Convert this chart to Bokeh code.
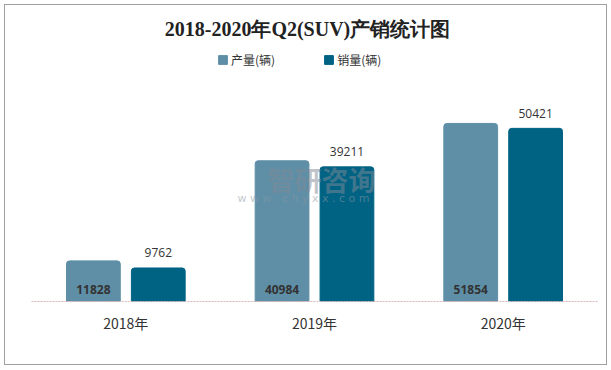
from bokeh.plotting import figure
from bokeh.models import ColumnDataSource, FactorRange, Legend, LegendItem, Label, Range1d
from bokeh.transform import dodge
from bokeh.core.properties import value
from bokeh.embed import file_html
from bokeh.resources import INLINE

years = ["2018年", "2019年", "2020年"]
production = [11828, 40984, 51854]
sales = [9762, 39211, 50421]
series_names = ["产量(辆)", "销量(辆)"]
title_text = "2018-2020年Q2(SUV)产销统计图"

src = ColumnDataSource(dict(
    years=years, production=production, sales=sales,
    prod_lbl=[str(v) for v in production], sales_lbl=[str(v) for v in sales],
    zero=[0] * len(years),
))

c_prod = "#5e8fa7"
c_sales = "#006384"

p = figure(width=603, height=361, x_range=FactorRange(*years, range_padding=0),
           y_range=Range1d(0, 86200), output_backend="svg", toolbar_location=None,
           min_border_left=26, min_border_right=11, min_border_bottom=65, min_border_top=0,
           background_fill_color="white", border_fill_color="white",
           styles={"border": "1px solid #a0a0a0", "box-sizing": "border-box", "margin": "4px"})

r1 = p.vbar(x=dodge("years", -0.172, range=p.x_range), top="production", width=0.285,
            source=src, color=c_prod, border_radius=[3, 3, 0, 0])
r2 = p.vbar(x=dodge("years", 0.172, range=p.x_range), top="sales", width=0.285,
            source=src, color=c_sales, border_radius=[3, 3, 0, 0])

p.text(x=dodge("years", -0.172, range=p.x_range), y="zero", text="prod_lbl", source=src,
       text_font=value("Open Sans"), text_font_style="bold", text_font_size="12px",
       text_color="#333333", text_align="center", text_baseline="middle", y_offset=-12)
p.text(x=dodge("years", 0.172, range=p.x_range), y="sales", text="sales_lbl", source=src,
       text_font=value("Open Sans"), text_font_size="12px",
       text_color="#333333", text_align="center", text_baseline="middle", y_offset=-15)

# title
p.add_layout(Label(x=276, y=273, x_units="screen", y_units="screen", text=title_text,
                   text_font="Liberation Serif", text_font_size="20px", text_font_style="bold",
                   text_color="#222222", text_align="center", text_baseline="middle"))

legend = Legend(items=[LegendItem(label=series_names[0], renderers=[r1]),
                       LegendItem(label=series_names[1], renderers=[r2])],
                orientation="horizontal", location=(184, 231),
                label_text_font="Noto Sans CJK SC", label_text_font_size="12px",
                label_text_color="#333333", glyph_width=11, glyph_height=11,
                label_standoff=3, spacing=48, border_line_alpha=0,
                padding=2, margin=0, background_fill_alpha=0)
p.add_layout(legend, "center")

# watermark
p.add_layout(Label(x=236, y=122, x_units="screen", y_units="screen", text="智研咨询",
                   text_font="Noto Sans CJK SC", text_font_size="27px", text_font_style="bold",
                   text_color="#7f8a96", text_alpha=0.5, text_baseline="middle"))
p.add_layout(Label(x=206, y=103, x_units="screen", y_units="screen", text="w w w . c h y x x . c o m",
                   text_font="DejaVu Sans", text_font_size="11px", text_color="#8a96a0",
                   text_alpha=0.55, text_baseline="middle"))

p.yaxis.visible = False
p.xgrid.visible = False
p.ygrid.visible = False
p.outline_line_color = None
p.xaxis.major_tick_line_color = None
p.xaxis.minor_tick_line_color = None
p.xaxis.axis_line_color = "#d8b8b8"
p.xaxis.axis_line_dash = "2 1"
p.xaxis.major_label_text_font = "Noto Sans CJK SC"
p.xaxis.major_label_text_font_size = "14px"
p.xaxis.major_label_text_color = "#333333"
p.xaxis.major_label_standoff = 5

open("out.html", "w").write(file_html(p, INLINE))
